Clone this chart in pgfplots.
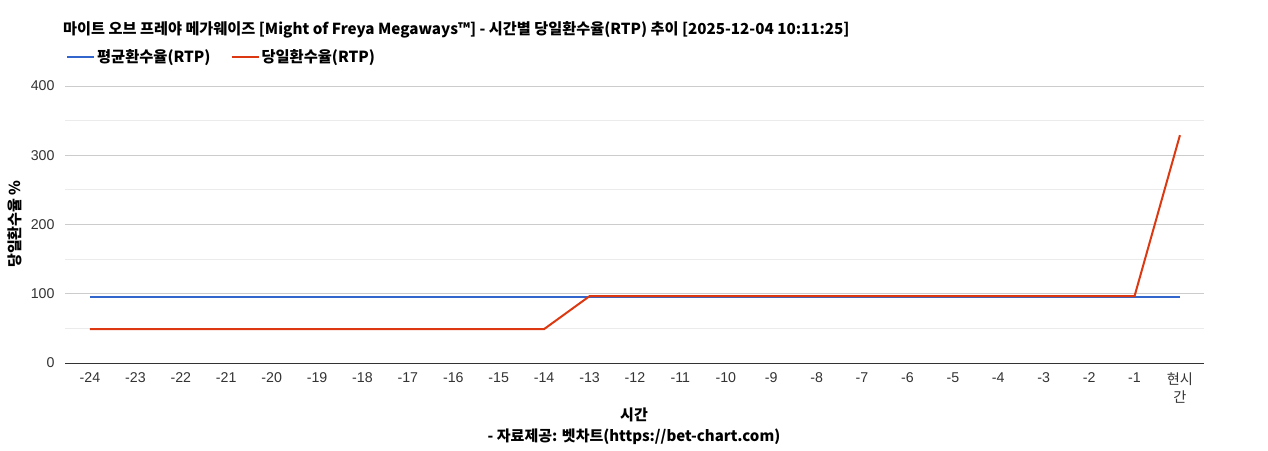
\documentclass[border=0pt]{standalone}
\usepackage{fontspec}
\setmainfont{Liberation Sans}
\newfontfamily\kr{Noto Sans CJK KR}
\usepackage{pgfplots}
\usepackage{pgfplotstable}
\pgfplotsset{compat=1.18}
\definecolor{gblue}{HTML}{3366CC}
\definecolor{gred}{HTML}{DC3912}
\pgfplotstableread{
x avg day
-24 96 49
-23 96 49
-22 96 49
-21 96 49
-20 96 49
-19 96 49
-18 96 49
-17 96 49
-16 96 49
-15 96 49
-14 96 49
-13 96 96.5
-12 96 96.5
-11 96 96.5
-10 96 96.5
-9 96 96.5
-8 96 96.5
-7 96 96.5
-6 96 96.5
-5 96 96.5
-4 96 96.5
-3 96 96.5
-2 96 96.5
-1 96 96.5
0 96 329
}\data
\begin{document}
\begin{tikzpicture}[x=1pt,y=1pt]
\useasboundingbox (0,0) rectangle (1268,450);
\begin{axis}[
  at={(65pt,87pt)}, anchor=south west,
  width=1139pt, height=277pt, scale only axis,
  xmin=-24.55, xmax=0.53, ymin=0, ymax=400,
  xtick={-24,...,0},
  xticklabels={-24,-23,-22,-21,-20,-19,-18,-17,-16,-15,-14,-13,-12,-11,-10,-9,-8,-7,-6,-5,-4,-3,-2,-1,{\kr 현시\\\kr 간}},
  ytick={0,100,200,300,400},
  minor ytick={50,150,250,350},
  ymajorgrids, yminorgrids,
  major grid style={color=black!20, line width=0.8pt},
  minor grid style={color=black!8, line width=0.8pt},
  axis x line*=bottom, axis y line*=left,
  x axis line style={-, color=black!80, line width=0.8pt},
  y axis line style={draw=none},
  xtick style={draw=none}, ytick style={draw=none},
  major tick length=0pt,
  /pgf/number format/assume math mode=true,
  tick label style={font=\fontsize{14.2}{18}\selectfont, color=black!80},
  xticklabel style={align=center, yshift=-6pt},
  yticklabel style={xshift=-7pt},
  legend columns=2,
  legend cell align=left,
  legend style={at={(-0.0018,1.105)}, anchor=west, draw=none, fill=none,
    font=\kr\bfseries\fontsize{15.3}{18}\selectfont,
    /tikz/every even column/.append style={column sep=18pt}},
  legend image code/.code={\draw[#1] (0pt,0pt) -- (27pt,0pt);},
]
\addplot[gblue, line width=2pt] table[x=x,y=avg] {\data};
\addlegendentry{평균환수율(RTP)}
\addplot[gred, line width=2pt] table[x=x,y=day] {\data};
\addlegendentry{당일환수율(RTP)}
\end{axis}
\node[anchor=west, font=\kr\bfseries\fontsize{15.2}{18}\selectfont, inner sep=0pt] at (63,420) {마이트 오브 프레야 메가웨이즈 [Might of Freya Megaways™] - 시간별 당일환수율(RTP) 추이 [2025-12-04 10:11:25]};
\node[rotate=90, font=\kr\bfseries\fontsize{15}{18}\selectfont, inner sep=0pt] at (15,226) {당일환수율 \%};
\node[font=\kr\bfseries\fontsize{15}{18}\selectfont, inner sep=0pt] at (634,35) {시간};
\node[font=\kr\bfseries\fontsize{15}{18}\selectfont, inner sep=0pt] at (634,13) {- 자료제공: 벳차트(https://bet-chart.com)};
\end{tikzpicture}
\end{document}
